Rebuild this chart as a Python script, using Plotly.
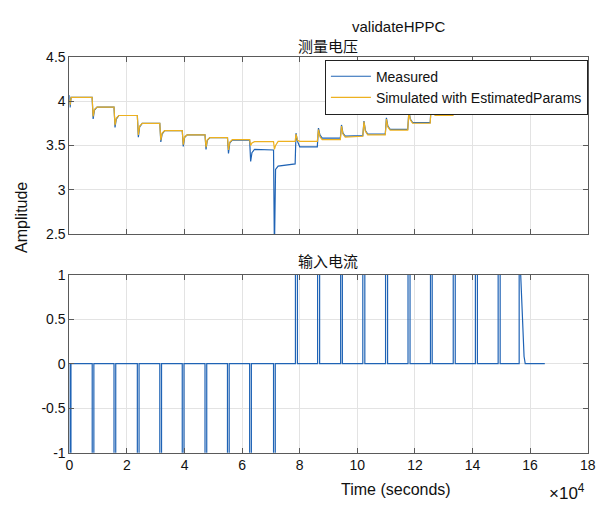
import plotly.graph_objects as go

# ---------------- data ----------------
# Voltage (top panel): time in seconds, measured and simulated volts
t_v = [0, 250, 600, 7900, 8250, 8700, 9600, 15500, 15850, 16300, 17200,
       23600, 23950, 24400, 25300, 31400, 31750, 32200, 33100,
       39200, 39550, 40000, 40900, 47100, 47450, 47900, 48800,
       54900, 55250, 55700, 56600, 62600, 62950, 63400, 64300,
       70900, 71200, 71600, 72500, 78400, 78700, 79200, 80000,
       86100, 86500, 87000, 87800, 94100, 94500, 95000, 95800,
       101900, 102300, 102800, 103600, 109700, 110100, 110600, 111400,
       117500, 117900, 118400, 119200, 125300, 125700, 126200, 127000,
       133200, 133600, 134100, 134900, 140900, 141300, 141800, 142600,
       148800, 149200, 149700, 150500, 156100, 156400, 156900, 158300, 165100]
v_measured = [4.07, 3.93, 4.045, 4.045, 3.80, 3.90, 3.935, 3.935, 3.705, 3.80, 3.84,
              3.84, 3.595, 3.71, 3.75, 3.75, 3.54, 3.63, 3.668,
              3.668, 3.49, 3.59, 3.62, 3.62, 3.456, 3.56, 3.59,
              3.59, 3.41, 3.53, 3.562, 3.562, 3.32, 3.42, 3.456,
              3.45, 2.30, 3.23, 3.267, 3.292, 3.64, 3.55, 3.486,
              3.486, 3.697, 3.62, 3.584, 3.584, 3.733, 3.64, 3.606,
              3.613, 3.777, 3.67, 3.63, 3.63, 3.814, 3.72, 3.683,
              3.683, 3.894, 3.80, 3.76, 3.76, 3.98, 3.89, 3.85,
              3.85, 4.06, 3.99, 3.958, 3.958, 4.16, 4.09, 4.07,
              4.07, 4.20, 4.10, 4.08, 4.08, 4.20, 4.03, 4.0, 4.0]
v_simulated = [4.02, 3.96, 4.045, 4.045, 3.83, 3.91, 3.935, 3.935, 3.73, 3.81, 3.84,
               3.84, 3.62, 3.72, 3.75, 3.75, 3.56, 3.64, 3.668,
               3.668, 3.51, 3.60, 3.62, 3.62, 3.48, 3.565, 3.59,
               3.59, 3.45, 3.54, 3.566, 3.566, 3.50, 3.53, 3.544,
               3.544, 3.456, 3.50, 3.547, 3.547, 3.63, 3.56, 3.547,
               3.547, 3.68, 3.60, 3.566, 3.566, 3.72, 3.63, 3.595,
               3.605, 3.77, 3.66, 3.62, 3.62, 3.80, 3.71, 3.675,
               3.675, 3.88, 3.79, 3.752, 3.752, 3.97, 3.88, 3.842,
               3.842, 4.05, 3.98, 3.945, 3.945, 4.15, 4.08, 4.06,
               4.06, 4.19, 4.09, 4.038, 4.038, 4.038, 4.03, 4.0, 4.0]

# Current (bottom panel)
t_i = [0,
       200, 200, 550, 550, 7930, 7930, 8500, 8500,
       15500, 15500, 16100, 16100, 23600, 23600, 24200, 24200,
       31400, 31400, 32000, 32000, 39200, 39200, 39800, 39800,
       47100, 47100, 47700, 47700, 54900, 54900, 55500, 55500,
       62600, 62600, 63200, 63200, 70900, 70900, 71500, 71500,
       78500, 78500, 79200, 79200, 86200, 86200, 86900, 86900,
       94200, 94200, 94800, 94800, 101900, 101900, 102600, 102600,
       109800, 109800, 110500, 110500, 117600, 117600, 118300, 118300,
       125400, 125400, 126000, 126000, 133300, 133300, 134000, 134000,
       141000, 141000, 141700, 141700, 148900, 148900, 149600, 149600,
       156200, 156200, 156600, 157900, 158300, 165100]
i_measured = [0,
              0, -1.2, -1.2, 0, 0, -1.2, -1.2, 0,
              0, -1.2, -1.2, 0, 0, -1.2, -1.2, 0,
              0, -1.2, -1.2, 0, 0, -1.2, -1.2, 0,
              0, -1.2, -1.2, 0, 0, -1.2, -1.2, 0,
              0, -1.2, -1.2, 0, 0, -1.2, -1.2, 0,
              0, 1.2, 1.2, 0, 0, 1.2, 1.2, 0,
              0, 1.2, 1.2, 0, 0, 1.2, 1.2, 0,
              0, 1.2, 1.2, 0, 0, 1.2, 1.2, 0,
              0, 1.2, 1.2, 0, 0, 1.2, 1.2, 0,
              0, 1.2, 1.2, 0, 0, 1.2, 1.2, 0,
              0, 1.2, 1.1, 0.08, 0, 0]

x_tick_vals = [0, 20000, 40000, 60000, 80000, 100000, 120000, 140000, 160000, 180000]
x_tick_text = ["0", "2", "4", "6", "8", "10", "12", "14", "16", "18"]
y1_ticks = [2.5, 3, 3.5, 4, 4.5]
y1_text = ["2.5", "3", "3.5", "4", "4.5"]
y2_ticks = [-1, -0.5, 0, 0.5, 1]
y2_text = ["-1", "-0.5", "0", "0.5", "1"]

BLUE = "#1f63b5"
ORANGE = "#EDB120"
FONT = "Arial, 'Liberation Sans', 'Noto Sans CJK SC', sans-serif"
W, H = 606, 511

def px(x):
    return x / W

def py(y):
    return 1 - y / H

fig = go.Figure()
fig.add_trace(go.Scatter(x=t_v, y=v_measured, mode="lines", name="Measured",
                         line=dict(color=BLUE, width=1.2), xaxis="x", yaxis="y"))
fig.add_trace(go.Scatter(x=t_v, y=v_simulated, mode="lines", name="Simulated with EstimatedParams",
                         line=dict(color=ORANGE, width=1.2), xaxis="x", yaxis="y"))
fig.add_trace(go.Scatter(x=t_i, y=i_measured, mode="lines", showlegend=False,
                         line=dict(color=BLUE, width=1.2), xaxis="x2", yaxis="y2"))

axis_common = dict(showline=True, linecolor="#5a5a5a", linewidth=1, mirror="ticks",
                   ticks="inside", ticklen=5, tickcolor="#5a5a5a",
                   showgrid=True, gridcolor="#e3e3e3", gridwidth=1, zeroline=False,
                   tickfont=dict(family=FONT, size=14, color="#111"))

x0, x1 = px(66.7), px(595.5)
fig.update_layout(
    width=W, height=H,
    margin=dict(l=0, r=0, t=0, b=0),
    paper_bgcolor="white", plot_bgcolor="white",
    font=dict(family=FONT, size=14, color="#111"),
    xaxis=dict(domain=[x0, x1], range=[0, 180000], anchor="y",
               tickvals=x_tick_vals, showticklabels=False, **axis_common),
    yaxis=dict(domain=[py(233.3), py(50.7)], range=[2.5, 4.5], anchor="x",
               tickvals=y1_ticks, ticktext=y1_text, **axis_common),
    xaxis2=dict(domain=[x0, x1], range=[0, 180000], anchor="y2",
                tickvals=x_tick_vals, ticktext=x_tick_text, **axis_common),
    yaxis2=dict(domain=[py(459), py(275.3)], range=[-1, 1], anchor="x2",
                tickvals=y2_ticks, ticktext=y2_text, **axis_common),
    showlegend=True,
    legend=dict(x=px(595.7), y=py(53.3), xanchor="right", yanchor="top",
                bgcolor="white", bordercolor="#222", borderwidth=1,
                font=dict(family=FONT, size=14, color="#111"),
                tracegroupgap=0, itemwidth=40),
)

ann = [
    dict(text="validateHPPC", x=px(403), y=py(19)),
    dict(text="测量电压", x=px(331), y=py(40)),
    dict(text="输入电流", x=px(331), y=py(262)),
    dict(text="Time (seconds)", x=px(400), y=py(497), size=16),
    dict(text="×10<sup>4</sup>", x=px(574), y=py(500), size=17),
]
annotations = []
for a in ann:
    annotations.append(dict(text=a["text"], x=a["x"], y=a["y"], xref="paper", yref="paper",
                            xanchor="center", yanchor="middle", showarrow=False,
                            font=dict(family=FONT, size=a.get("size", 15), color="#111")))
annotations.append(dict(text="Amplitude", x=px(18), y=py(216), xref="paper", yref="paper",
                        xanchor="center", yanchor="middle", showarrow=False, textangle=-90,
                        font=dict(family=FONT, size=16, color="#111")))
fig.update_layout(annotations=annotations)

fig.write_html("out.html")
